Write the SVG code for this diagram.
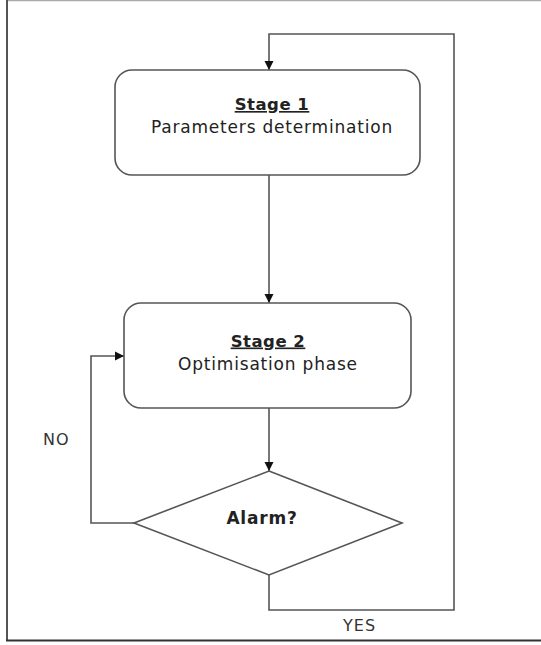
<svg xmlns="http://www.w3.org/2000/svg" width="541" height="645" viewBox="0 0 541 645">
<style>
.node{fill:#fff;stroke:#555;stroke-width:1.6}
.conn{fill:none;stroke:#555;stroke-width:1.6}
.t{font-family:"DejaVu Sans",Verdana,sans-serif;font-size:17px;fill:#222;text-anchor:middle;letter-spacing:0.8px}
.b{font-weight:bold;text-decoration:underline;font-size:16.5px;letter-spacing:0.5px}
.lbl{font-family:"DejaVu Sans",Verdana,sans-serif;font-size:16px;fill:#333;letter-spacing:1px}
</style>
<defs>
<marker id="ah" markerWidth="10" markerHeight="10" refX="9" refY="5" orient="auto" markerUnits="userSpaceOnUse">
<path d="M0,0.5 L9,5 L0,9.5 Z" fill="#111"/>
</marker>
</defs>
<rect width="541" height="645" fill="#fff"/>
<line x1="6" y1="0.5" x2="541" y2="0.5" stroke="#aaa" stroke-width="1.5"/>
<line x1="7" y1="0" x2="7" y2="641" stroke="#555" stroke-width="2"/>
<line x1="6" y1="640.5" x2="541" y2="640.5" stroke="#333" stroke-width="2"/>
<g id="connectors">
<path class="conn" d="M269,175 V303" marker-end="url(#ah)"/>
<path class="conn" d="M269,408 V471" marker-end="url(#ah)"/>
<path class="conn" d="M269,575 V610 H454 V34 H269 V70" marker-end="url(#ah)"/>
<path class="conn" d="M134,523 H91 V356 H124" marker-end="url(#ah)"/>
</g>
<g id="stage1">
<rect class="node" x="115" y="70" width="305" height="105" rx="17"/>
<text class="t b" x="272" y="110">Stage 1</text>
<text class="t" x="272" y="133">Parameters determination</text>
</g>
<g id="stage2">
<rect class="node" x="124" y="303" width="287" height="105" rx="17"/>
<text class="t b" x="268" y="346.5">Stage 2</text>
<text class="t" x="268" y="369.5">Optimisation phase</text>
</g>
<g id="alarm">
<polygon class="node" points="269,471 402,523 269,575 134,523"/>
<text class="t" x="262" y="524" font-weight="bold">Alarm?</text>
</g>
<text class="lbl" x="43" y="445">NO</text>
<text class="lbl" x="343" y="631">YES</text>
</svg>
